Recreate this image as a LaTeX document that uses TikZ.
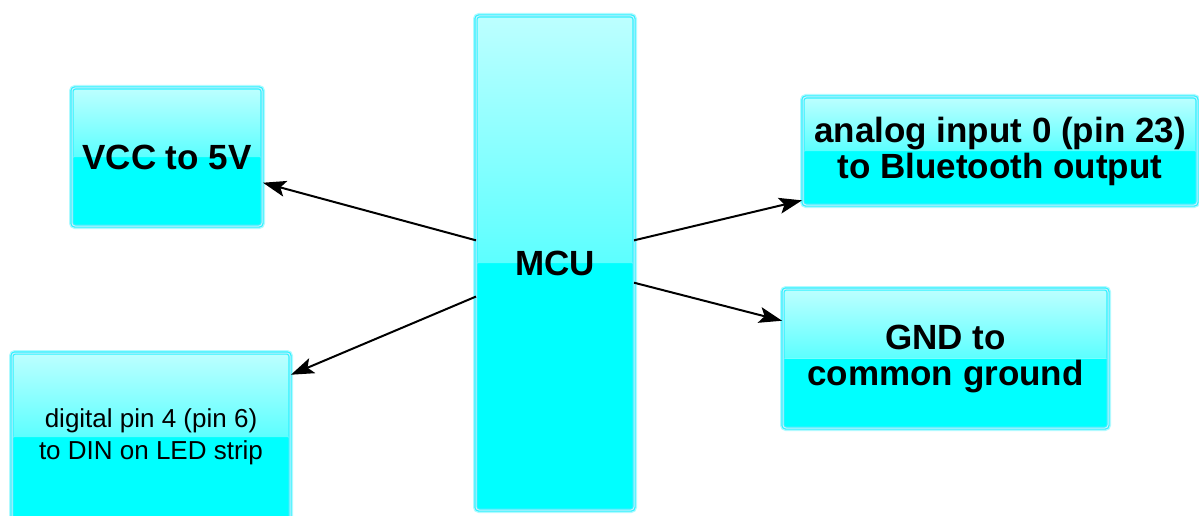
\documentclass[tikz,border=0pt]{standalone}
\usepackage{fontspec}
\setmainfont{Liberation Sans}
\usetikzlibrary{arrows.meta}
\definecolor{boxtop}{HTML}{BDFFFF}
\definecolor{boxmid}{HTML}{5CFFFF}
\definecolor{boxbot}{HTML}{00FFFF}
\definecolor{boxedge}{HTML}{30F2FF}
\definecolor{boxglow}{HTML}{B0FAFF}
\tikzset{
    x=1pt,
    y=-1pt,
    box/.style={rectangle, rounded corners=3pt, inner sep=0pt, outer sep=0pt, align=center,
        draw=boxedge, line width=1.2pt, double=white!80!cyan, double distance=1pt,
        preaction={draw=boxglow, line width=6pt},
        path picture={
            \fill[boxbot] (path picture bounding box.south west) rectangle (path picture bounding box.east);
            \shade[top color=boxtop, bottom color=boxmid] (path picture bounding box.north west) rectangle (path picture bounding box.east);
        }},
    big/.style={font=\bfseries\fontsize{35}{36}\selectfont},
    small/.style={font=\fontsize{26}{32}\selectfont},
    link/.style={-{Stealth[length=23pt,width=16pt,inset=5pt]}, line width=2pt, shorten >=1pt},
}

\begin{document}
\begin{tikzpicture}
    \useasboundingbox (0,0) rectangle (1199,516);
    \clip (0,0) rectangle (1199,516);

        \node[box, big, minimum width=158pt, minimum height=494pt] (mcu) at (555,263) {MCU};
        \node[box, big, minimum width=190pt, minimum height=138pt] (vcc) at (167,157) {VCC to 5V};
        \node[box, small, minimum width=278pt, minimum height=168pt] (dig) at (151,437) {digital pin 4 (pin 6)\\to DIN on LED strip};
        \node[box, big, minimum width=394pt, minimum height=108pt] (ana) at (1000,151) {analog input 0 (pin 23)\\to Bluetooth output};
        \node[box, big, minimum width=325pt, minimum height=139pt] (gnd) at (945.5,358.5) {GND to\\common ground};

    \path[link]
        (mcu.164) edge (vcc.-15)
        (mcu.203) edge (dig.24)
        (mcu.16) edge (ana.194)
        (mcu.-14) edge (gnd.167);
\end{tikzpicture}
\end{document}
